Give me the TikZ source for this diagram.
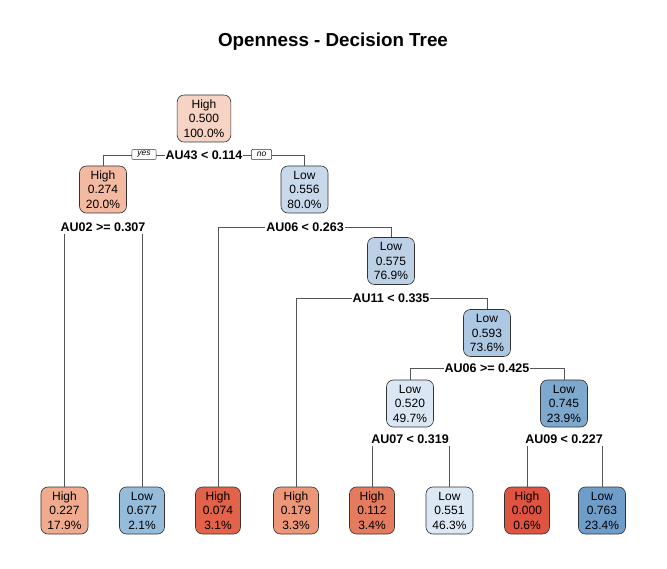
\documentclass[tikz,border=0pt]{standalone}
\usepackage{fontspec}
\setmainfont{Liberation Sans}
\usetikzlibrary{calc}
\def\leafRow{510.5}
\def\nodeMinW{45pt}
\def\nodeMinH{47pt}
\definecolor{hiA}{HTML}{F6D3C3}
\definecolor{hiB}{HTML}{F3B9A1}
\definecolor{hiC}{HTML}{F0AB8E}
\definecolor{hiD}{HTML}{EE9778}
\definecolor{hiE}{HTML}{E57B5E}
\definecolor{hiF}{HTML}{E26349}
\definecolor{hiG}{HTML}{DE5440}
\definecolor{loA}{HTML}{DAE6F3}
\definecolor{loB}{HTML}{DCE8F4}
\definecolor{loC}{HTML}{C9D9EC}
\definecolor{loD}{HTML}{BCD0E6}
\definecolor{loE}{HTML}{ADC8E3}
\definecolor{loF}{HTML}{96BCDB}
\definecolor{loG}{HTML}{7EA9CF}
\definecolor{loH}{HTML}{6F9DC9}
\definecolor{edgegray}{HTML}{555555}
\newcommand{\TreeSharedStyles}{
  \tikzset{
    basebox/.style={
      rectangle,
      rounded corners=7pt,
      draw=black!80,
      line width=0.6pt,
      minimum width=\nodeMinW,
      minimum height=\nodeMinH,
      inner xsep=6.5pt,
      inner ysep=2pt,
      align=center,
      font=\fontsize{12}{14.5}\selectfont
    },
    treenode/.style={basebox, fill=##1},
    splitlabel/.style={fill=white, inner xsep=1pt, inner ysep=3pt, font=\bfseries\fontsize{12.5}{14}\selectfont},
    yesno/.style={rectangle, draw=black!80, fill=white, rounded corners=1pt, line width=0.5pt,
      inner xsep=5.5pt, inner ysep=0pt, minimum height=10pt, font=\itshape\fontsize{8.5}{9}\selectfont},
    branch/.style={draw=edgegray, line width=0.6pt}
  }
}
\begin{document}
\begin{tikzpicture}[
  x=1pt, y=-1pt,
  line width=0.6pt
]
  \TreeSharedStyles
  \useasboundingbox (0,0) rectangle (667,569);

  \node[font=\bfseries\fontsize{18.8}{22}\selectfont] (title) at (333,42) {Openness - Decision Tree};

  % inner nodes
  \node[treenode=hiA] (root) at (204,118.5) {High\\0.500\\100.0\%};
  \node[treenode=hiB] (n2) at (103,189.5) {High\\0.274\\20.0\%};
  \node[treenode=loC] (n3) at (304.5,189.5) {Low\\0.556\\80.0\%};
  \node[treenode=loD] (n7) at (391,261) {Low\\0.575\\76.9\%};
  \node[treenode=loE] (n15) at (487,333) {Low\\0.593\\73.6\%};
  \node[treenode=loA] (n30) at (410,403.5) {Low\\0.520\\49.7\%};
  \node[treenode=loG] (n31) at (564,403.5) {Low\\0.745\\23.9\%};

  % leaves
  \node[treenode=hiC] (l4) at (64.5,\leafRow) {High\\0.227\\17.9\%};
  \node[treenode=loF] (l5) at (142,\leafRow) {Low\\0.677\\2.1\%};
  \node[treenode=hiF] (l6) at (218,\leafRow) {High\\0.074\\3.1\%};
  \node[treenode=hiD] (l14) at (296,\leafRow) {High\\0.179\\3.3\%};
  \node[treenode=hiE] (l60) at (372,\leafRow) {High\\0.112\\3.4\%};
  \node[treenode=loB] (l61) at (449.5,\leafRow) {Low\\0.551\\46.3\%};
  \node[treenode=hiG] (l62) at (527,\leafRow) {High\\0.000\\0.6\%};
  \node[treenode=loH] (l63) at (602,\leafRow) {Low\\0.763\\23.4\%};

  % split points
  \coordinate (s1) at (204,155);
  \coordinate (s2) at (103,227);
  \coordinate (s3) at (305,227);
  \coordinate (s7) at (391,298);
  \coordinate (s15) at (487,368);
  \coordinate (s30) at (410,439);
  \coordinate (s31) at (564,439);

  \draw[branch] (s1) -| (n2.north);
  \draw[branch] (s1) -| (n3.north);
  \draw[branch] (s2) -| (l4.north);
  \draw[branch] (s2) -| (l5.north);
  \draw[branch] (s3) -| (l6.north);
  \draw[branch] (s3) -| (n7.north);
  \draw[branch] (s7) -| (l14.north);
  \draw[branch] (s7) -| (n15.north);
  \draw[branch] (s15) -| (n30.north);
  \draw[branch] (s15) -| (n31.north);
  \draw[branch] (s30) -| (l60.north);
  \draw[branch] (s30) -| (l61.north);
  \draw[branch] (s31) -| (l62.north);
  \draw[branch] (s31) -| (l63.north);

  % split labels
  \node[splitlabel] (lab1) at (s1) {AU43 < 0.114};
  \node[splitlabel] (lab2) at (s2) {AU02 >= 0.307};
  \node[splitlabel] (lab3) at (s3) {AU06 < 0.263};
  \node[splitlabel] (lab7) at (s7) {AU11 < 0.335};
  \node[splitlabel] (lab15) at (s15) {AU06 >= 0.425};
  \node[splitlabel] (lab30) at (s30) {AU07 < 0.319};
  \node[splitlabel] (lab31) at (s31) {AU09 < 0.227};

  \node[yesno] (yes) at (144,154.5) {yes};
  \node[yesno] (no) at (261.5,154.5) {no};
\end{tikzpicture}
\end{document}
